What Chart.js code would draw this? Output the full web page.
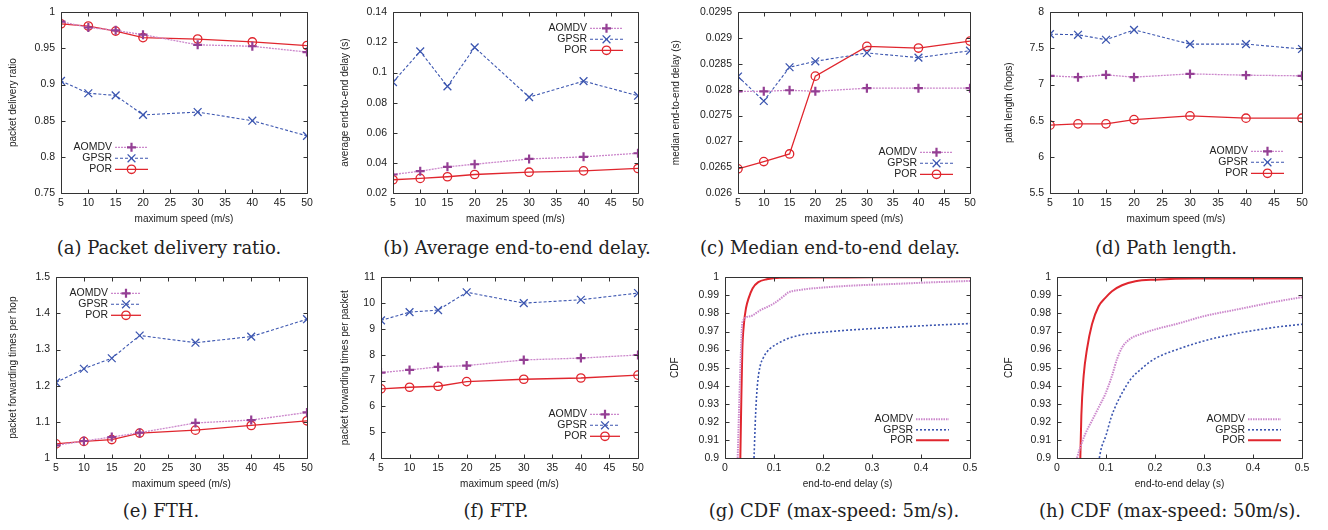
<!DOCTYPE html>
<html>
<head>
<meta charset="utf-8">
<script src="https://cdn.jsdelivr.net/npm/chart.js@4.4.1/dist/chart.umd.min.js"></script>
<style>
body { margin: 0; background: #fff; width: 1328px; height: 530px; position: relative; overflow: hidden; }
.panel { position: absolute; }
.cap { position: absolute; width: 400px; height: 22px; line-height: 22px; text-align: center; white-space: nowrap;
       font-family: "DejaVu Serif", serif; font-size: 18px; color: #222; }
</style>
</head>
<body>
<script>
// x values: maximum speed (m/s)
var speeds = [5, 10, 15, 20, 30, 40, 50];
var names = ['AOMDV', 'GPSR', 'POR'];

// (a) packet delivery ratio
var pdrAomdv = [0.987, 0.979, 0.975, 0.969, 0.955, 0.953, 0.945];
var pdrGpsr  = [0.905, 0.888, 0.885, 0.858, 0.862, 0.850, 0.829];
var pdrPor   = [0.984, 0.981, 0.974, 0.965, 0.963, 0.959, 0.954];
// (b) average end-to-end delay
var avgAomdv = [0.0323, 0.0345, 0.0374, 0.0391, 0.0426, 0.0440, 0.0464];
var avgGpsr  = [0.0936, 0.1140, 0.0908, 0.1167, 0.0837, 0.0943, 0.0846];
var avgPor   = [0.0288, 0.0297, 0.0308, 0.0323, 0.0338, 0.0347, 0.0363];
// (c) median end-to-end delay
var medAomdv = [0.02797, 0.02797, 0.02799, 0.02797, 0.02803, 0.02803, 0.02803];
var medGpsr  = [0.028256, 0.027782, 0.028436, 0.028551, 0.028712, 0.028622, 0.028756];
var medPor   = [0.026468, 0.026609, 0.026756, 0.028263, 0.02884, 0.028808, 0.028942];
// (d) path length
var hopAomdv = [7.121, 7.103, 7.135, 7.103, 7.148, 7.130, 7.121];
var hopGpsr  = [7.698, 7.689, 7.620, 7.757, 7.560, 7.560, 7.492];
var hopPor   = [6.439, 6.457, 6.457, 6.516, 6.567, 6.535, 6.535];
// (e) FTH
var fthAomdv = [1.035, 1.047, 1.058, 1.070, 1.097, 1.105, 1.126];
var fthGpsr  = [1.209, 1.247, 1.276, 1.339, 1.319, 1.336, 1.384];
var fthPor   = [1.039, 1.046, 1.051, 1.069, 1.077, 1.090, 1.103];
// (f) FTP
var ftpAomdv = [7.31, 7.41, 7.53, 7.58, 7.80, 7.87, 7.99];
var ftpGpsr  = [9.33, 9.65, 9.73, 10.42, 10.00, 10.13, 10.39];
var ftpPor   = [6.68, 6.74, 6.78, 6.96, 7.05, 7.10, 7.21];

// (g) CDF, max speed 5 m/s
var g5DelayAomdv = [0.0259, 0.0293, 0.0327, 0.0354, 0.051, 0.0714, 0.0986, 0.119, 0.1293, 0.153, 0.2075, 0.2755, 0.3435, 0.4116, 0.5];
var g5CdfAomdv   = [0.9, 0.9326, 0.960, 0.9751, 0.9784, 0.9817, 0.9853, 0.9894, 0.9916, 0.993, 0.9945, 0.9956, 0.9963, 0.9971, 0.998];
var g5DelayGpsr  = [0.0592, 0.0626, 0.066, 0.0714, 0.0782, 0.085, 0.0918, 0.1054, 0.1259, 0.153, 0.2007, 0.2755, 0.3435, 0.4116, 0.5];
var g5CdfGpsr    = [0.9, 0.925, 0.94, 0.9505, 0.9555, 0.9585, 0.9605, 0.963, 0.9658, 0.968, 0.9696, 0.9712, 0.9723, 0.9733, 0.9744];
var g5DelayPor   = [0.0313, 0.0333, 0.0354, 0.0388, 0.0429, 0.0483, 0.0565, 0.068, 0.085, 0.112, 0.2, 0.3, 0.4, 0.5];
var g5CdfPor     = [0.9, 0.9326, 0.960, 0.9747, 0.983, 0.9885, 0.994, 0.9973, 0.9989, 0.9998, 0.9999, 1, 1, 1];
// (h) CDF, max speed 50 m/s
var h50DelayAomdv = [0.0408, 0.0476, 0.0578, 0.0714, 0.085, 0.0986, 0.1122, 0.1224, 0.1327, 0.1497, 0.1735, 0.2007, 0.2483, 0.3, 0.3503, 0.4, 0.4524, 0.5];
var h50CdfAomdv   = [0.9, 0.906, 0.9134, 0.9207, 0.928, 0.9354, 0.9455, 0.9547, 0.9611, 0.966, 0.9688, 0.9712, 0.9745, 0.9785, 0.9813, 0.984, 0.9868, 0.989];
var h50DelayGpsr  = [0.0864, 0.09, 0.1, 0.11, 0.12, 0.135, 0.15, 0.175, 0.2, 0.25, 0.3, 0.35, 0.4, 0.45, 0.5];
var h50CdfGpsr    = [0.9, 0.905, 0.9125, 0.922, 0.929, 0.937, 0.9435, 0.95, 0.955, 0.9605, 0.9648, 0.968, 0.9705, 0.9725, 0.974];
var h50DelayPor   = [0.0476, 0.0497, 0.0544, 0.0612, 0.0714, 0.085, 0.0986, 0.1122, 0.1327, 0.16, 0.2007, 0.2823, 0.5];
var h50CdfPor     = [0.9, 0.9235, 0.9455, 0.9602, 0.974, 0.984, 0.9886, 0.9923, 0.9956, 0.9978, 0.9987, 0.9993, 0.9993];

var captions = ['(a) Packet delivery ratio.', '(b) Average end-to-end delay.', '(c) Median end-to-end delay.', '(d) Path length.',
                '(e) FTH.', '(f) FTP.', '(g) CDF (max-speed: 5m/s).', '(h) CDF (max-speed: 50m/s).'];

var PURPLE = '#943f94', PINK = '#cc88cc', BLUE = '#3c56b0', RED = '#e0262e', INK = '#222';
Chart.defaults.font.family = 'Liberation Sans';

function pairs(xs, ys) {
    return xs.map(function(x, i) { return {x: x, y: ys[i]}; });
}

function fmt(v) { return String(parseFloat(Number(v).toFixed(6))); }

function drawMarker(ctx, style, x, y, r, color, lw) {
    ctx.save();
    ctx.strokeStyle = color;
    ctx.lineWidth = lw;
    ctx.beginPath();
    if (style == 'circle') {
        ctx.arc(x, y, r, 0, Math.PI * 2);
    } else if (style == 'cross') {
        ctx.moveTo(x - r, y); ctx.lineTo(x + r, y);
        ctx.moveTo(x, y - r); ctx.lineTo(x, y + r);
    } else {
        var d = r * Math.SQRT1_2;
        ctx.moveTo(x - d, y - d); ctx.lineTo(x + d, y + d);
        ctx.moveTo(x - d, y + d); ctx.lineTo(x + d, y - d);
    }
    ctx.stroke();
    ctx.restore();
}

// gnuplot style box with inward ticks on all four sides
var gpFrame = {
    id: 'gpFrame',
    afterDraw: function(chart) {
        var ctx = chart.ctx, a = chart.chartArea;
        var sx = chart.scales.x, sy = chart.scales.y, tl = 4;
        var L = Math.round(a.left) + 0.5, R = Math.round(a.right) + 0.5;
        var T = Math.round(a.top) + 0.5, B = Math.round(a.bottom) + 0.5;
        ctx.save();
        ctx.strokeStyle = '#333';
        ctx.lineWidth = 1;
        ctx.beginPath();
        sx.ticks.forEach(function(t) {
            var px = Math.round(sx.getPixelForValue(t.value)) + 0.5;
            ctx.moveTo(px, B); ctx.lineTo(px, B - tl);
            ctx.moveTo(px, T); ctx.lineTo(px, T + tl);
        });
        sy.ticks.forEach(function(t) {
            var py = Math.round(sy.getPixelForValue(t.value)) + 0.5;
            ctx.moveTo(L, py); ctx.lineTo(L + tl, py);
            ctx.moveTo(R, py); ctx.lineTo(R - tl, py);
        });
        ctx.rect(L, T, R - L, B - T);
        ctx.stroke();
        ctx.restore();
    }
};

// gnuplot style key: label right-aligned, then line sample with marker
var gpKey = {
    id: 'gpKey',
    afterDatasetsDraw: function(chart, args, o) {
        var ctx = chart.ctx, a = chart.chartArea;
        ctx.save();
        ctx.font = '10.5px "Liberation Sans"';
        ctx.textAlign = 'right';
        ctx.textBaseline = 'middle';
        chart.data.datasets.forEach(function(ds, i) {
            var x = a.left + o.dx, y = a.top + o.dy + i * o.step;
            ctx.fillStyle = INK;
            ctx.fillText(ds.label, x, y);
            ctx.strokeStyle = ds.borderColor;
            ctx.lineWidth = ds.borderWidth;
            ctx.setLineDash(ds.borderDash || []);
            ctx.beginPath();
            ctx.moveTo(x + 3, y);
            ctx.lineTo(x + 3 + o.len, y);
            ctx.stroke();
            ctx.setLineDash([]);
            if (ds.pointRadius > 0) {
                drawMarker(ctx, ds.pointStyle, x + 3 + o.len / 2, y, ds.pointRadius, ds.pointBorderColor, ds.pointBorderWidth);
            }
        });
        ctx.restore();
    }
};

function speedSets(aomdv, gpsr, por) {
    return [
        {label: names[0], data: pairs(speeds, aomdv), borderColor: PINK, borderWidth: 1.3, borderDash: [2, 1],
         pointStyle: 'cross', pointRadius: 4.5, pointBorderColor: PURPLE, pointBorderWidth: 2.2, pointBackgroundColor: PURPLE},
        {label: names[1], data: pairs(speeds, gpsr), borderColor: BLUE, borderWidth: 1.1, borderDash: [3, 2],
         pointStyle: 'crossRot', pointRadius: 5.5, pointBorderColor: BLUE, pointBorderWidth: 1.3, pointBackgroundColor: BLUE},
        {label: names[2], data: pairs(speeds, por), borderColor: RED, borderWidth: 1.3,
         pointStyle: 'circle', pointRadius: 4.2, pointBorderColor: RED, pointBorderWidth: 1.3, pointBackgroundColor: 'rgba(255,255,255,0)'}
    ];
}

function cdfSets(xa, ya, xg, yg, xp, yp) {
    return [
        {label: names[0], data: pairs(xa, ya), borderColor: PINK, borderWidth: 2, borderDash: [1.5, 1], pointRadius: 0, cubicInterpolationMode: 'monotone'},
        {label: names[1], data: pairs(xg, yg), borderColor: BLUE, borderWidth: 1.6, borderDash: [2, 2], pointRadius: 0, cubicInterpolationMode: 'monotone'},
        {label: names[2], data: pairs(xp, yp), borderColor: RED, borderWidth: 2, pointRadius: 0, cubicInterpolationMode: 'monotone'}
    ];
}

function makePanel(p) {
    var w = p.plotRight + 15 - p.left, h = 232;
    var box = document.createElement('div');
    box.className = 'panel';
    box.style.left = p.left + 'px';
    box.style.top = p.top + 'px';
    var cv = document.createElement('canvas');
    cv.width = w; cv.height = h;
    cv.style.width = w + 'px'; cv.style.height = h + 'px';
    box.appendChild(cv);
    document.body.appendChild(box);
    var tickFont = {size: 10.5}, titleFont = {size: 10};
    new Chart(cv.getContext('2d'), {
        type: 'line',
        data: {datasets: p.sets},
        plugins: [gpFrame, gpKey],
        options: {
            responsive: false,
            animation: false,
            events: [],
            layout: {padding: {left: 0, top: 11, right: 15, bottom: 0}},
            plugins: {legend: {display: false}, tooltip: {enabled: false}, gpKey: p.key},
            scales: {
                x: {type: 'linear', min: p.x[0], max: p.x[1],
                    ticks: {stepSize: p.x[2], padding: 4, maxRotation: 0, autoSkip: false, color: INK, font: tickFont, callback: fmt},
                    grid: {display: false, drawTicks: false}, border: {display: false},
                    title: {display: true, text: p.xTitle, color: INK, font: titleFont, padding: {top: 0, bottom: 7}},
                    afterFit: function(s) { s.height = 39; }},
                y: {type: 'linear', min: p.y[0], max: p.y[1],
                    ticks: {stepSize: p.y[2], padding: 6, autoSkip: false, color: INK, font: tickFont, callback: fmt},
                    grid: {display: false, drawTicks: false}, border: {display: false},
                    title: {display: true, text: p.yTitle, color: INK, font: titleFont, padding: {top: 0, bottom: 0}},
                    afterFit: function(s) { s.width = p.yw; }}
            }
        }
    });
}

var speedTitle = 'maximum speed (m/s)', delayTitle = 'end-to-end delay (s)';
var speedAxis = [5, 50, 5], delayAxis = [0, 0.5, 0.1];

makePanel({left: 7, top: 0, plotRight: 307, yw: 54, x: speedAxis, y: [0.75, 1, 0.05], xTitle: speedTitle,
           yTitle: 'packet delivery ratio', sets: speedSets(pdrAomdv, pdrGpsr, pdrPor), key: {dx: 51, dy: 135, step: 11, len: 33}});
makePanel({left: 339, top: 0, plotRight: 638, yw: 54, x: speedAxis, y: [0.02, 0.14, 0.02], xTitle: speedTitle,
           yTitle: 'average end-to-end delay (s)', sets: speedSets(avgAomdv, avgGpsr, avgPor), key: {dx: 194, dy: 16, step: 11, len: 33}});
makePanel({left: 670, top: 0, plotRight: 970, yw: 68, x: speedAxis, y: [0.026, 0.0295, 0.0005], xTitle: speedTitle,
           yTitle: 'median end-to-end delay (s)', sets: speedSets(medAomdv, medGpsr, medPor), key: {dx: 179, dy: 140, step: 11, len: 33}});
makePanel({left: 1003, top: 0, plotRight: 1302, yw: 47, x: speedAxis, y: [5.5, 8, 0.5], xTitle: speedTitle,
           yTitle: 'path length (hops)', sets: speedSets(hopAomdv, hopGpsr, hopPor), key: {dx: 198, dy: 139, step: 11, len: 33}});
makePanel({left: 7, top: 265, plotRight: 307, yw: 49, x: speedAxis, y: [1, 1.5, 0.1], xTitle: speedTitle,
           yTitle: 'packet forwarding times per hop', sets: speedSets(fthAomdv, fthGpsr, fthPor), key: {dx: 52, dy: 16, step: 11, len: 30}});
makePanel({left: 339, top: 265, plotRight: 638, yw: 42, x: speedAxis, y: [4, 11, 1], xTitle: speedTitle,
           yTitle: 'packet forwarding times per packet', sets: speedSets(ftpAomdv, ftpGpsr, ftpPor), key: {dx: 206, dy: 137, step: 11, len: 30}});
makePanel({left: 669, top: 265, plotRight: 970, yw: 56, x: delayAxis, y: [0.9, 1, 0.01], xTitle: delayTitle,
           yTitle: 'CDF', sets: cdfSets(g5DelayAomdv, g5CdfAomdv, g5DelayGpsr, g5CdfGpsr, g5DelayPor, g5CdfPor), key: {dx: 188, dy: 142, step: 10.5, len: 33}});
makePanel({left: 1003, top: 265, plotRight: 1302, yw: 54, x: delayAxis, y: [0.9, 1, 0.01], xTitle: delayTitle,
           yTitle: 'CDF', sets: cdfSets(h50DelayAomdv, h50CdfAomdv, h50DelayGpsr, h50CdfGpsr, h50DelayPor, h50CdfPor), key: {dx: 188, dy: 142, step: 10.5, len: 33}});

// subfigure captions
var capCenters = [169, 517, 830, 1166, 161, 496, 834, 1170];
captions.forEach(function(text, i) {
    var d = document.createElement('div');
    d.className = 'cap';
    d.textContent = text;
    d.style.left = (capCenters[i] - 200) + 'px';
    d.style.top = ((i < 4 ? 248 : 511) - 11) + 'px';
    document.body.appendChild(d);
});
</script>
</body>
</html>
